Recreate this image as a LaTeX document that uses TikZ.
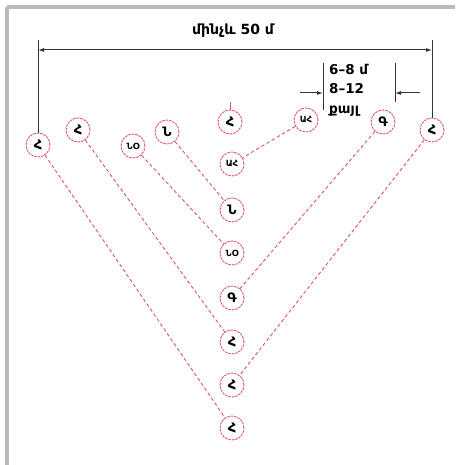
\documentclass[tikz,border=0pt]{standalone}
\usepackage{fontspec}
\setmainfont{DejaVu Sans}
\usetikzlibrary{arrows.meta,calc}
\definecolor{rd}{RGB}{225,85,100}
\definecolor{fr}{RGB}{185,185,185}
\tikzset{
  soldier/.style={circle,draw=rd,line width=0.9pt,dash pattern=on 2.5pt off 1pt,minimum size=24pt,inner sep=0pt,font=\fontsize{13}{13}\selectfont\bfseries,fill=white},
  soldiertwo/.style={soldier,font=\fontsize{8.5}{8.5}\selectfont\bfseries},
  link/.style={draw=rd,line width=0.9pt,dash pattern=on 3.5pt off 2.5pt},
  dimline/.style={line width=1pt,black!80},
  dimarr/.style={dimline,-{Latex[length=6pt,width=4pt]}},
}
\begin{document}
\begin{tikzpicture}[x=1pt,y=-1pt]
\useasboundingbox (0,0) rectangle (455,465);
\fill[white] (0,0) rectangle (455,465);
% frame
\draw[fr,line width=4pt] (7,7) -- (455,7);
\draw[fr,line width=4pt] (7,7) -- (7,465);
% top row
\node[soldier] (h1) at (38,145) {Հ};
\node[soldier] (h2) at (78,130) {Հ};
\node[soldiertwo] (no1) at (133,146) {ՆՕ};
\node[soldier] (n1) at (167,132) {Ն};
\node[soldier] (h0) at (230,122) {Հ};
\node[soldiertwo] (ah1) at (306,120) {ԱՀ};
\node[soldier] (g1) at (383,122) {Գ};
\node[soldier] (h3) at (432,130) {Հ};
% column
\node[soldiertwo] (ah2) at (232,164) {ԱՀ};
\node[soldier] (n2) at (232,210) {Ն};
\node[soldiertwo] (no2) at (232,253) {ՆՕ};
\node[soldier] (g2) at (232,298) {Գ};
\node[soldier] (h4) at (232,342) {Հ};
\node[soldier] (h5) at (232,385) {Հ};
\node[soldier] (h6) at (232,428) {Հ};
% links
\draw[link] (ah1) -- (ah2);
\draw[link] (n1) -- (n2);
\draw[link] (no1) -- (no2);
\draw[link] (g1) -- (g2);
\draw[link] (h2) -- (h4);
\draw[link] (h3) -- (h5);
\draw[link] (h1) -- (h6);
\coordinate (tk) at (230,102);
\draw[rd,line width=0.8pt] (h0.north) -- (tk);
% big dimension
\coordinate (lt) at (38,40);
\coordinate (rt) at (432,40);
\coordinate (la) at (38,50);
\coordinate (ra) at (432,50);
\coordinate (mid) at (235,50);
\draw[dimline] (lt) -- (h1.north);
\draw[dimline] (rt) -- (h3.north);
\draw[dimarr] (mid) -- (la);
\draw[dimarr] (mid) -- (ra);
\node[font=\fontsize{14}{14}\selectfont\bfseries] (t50) at (233,31) {մինչև 50 մ};
% small dimension
\coordinate (v1t) at (323,63);
\coordinate (v1b) at (323,110);
\coordinate (v2t) at (395,63);
\coordinate (v2b) at (395,102);
\draw[dimline] (v1t) -- (v1b);
\draw[dimline] (v2t) -- (v2b);
\coordinate (a1s) at (300,93);
\coordinate (a1e) at (323,93);
\coordinate (a2s) at (420,93);
\coordinate (a2e) at (395,93);
\draw[dimarr] (a1s) -- (a1e);
\draw[dimarr] (a2s) -- (a2e);
\node[anchor=north west,align=left,inner sep=0pt,font=\fontsize{13.5}{19.5}\selectfont\bfseries] (st) at (329,64) {6–8 մ\\8–12\\քայլ};
\end{tikzpicture}
\end{document}
